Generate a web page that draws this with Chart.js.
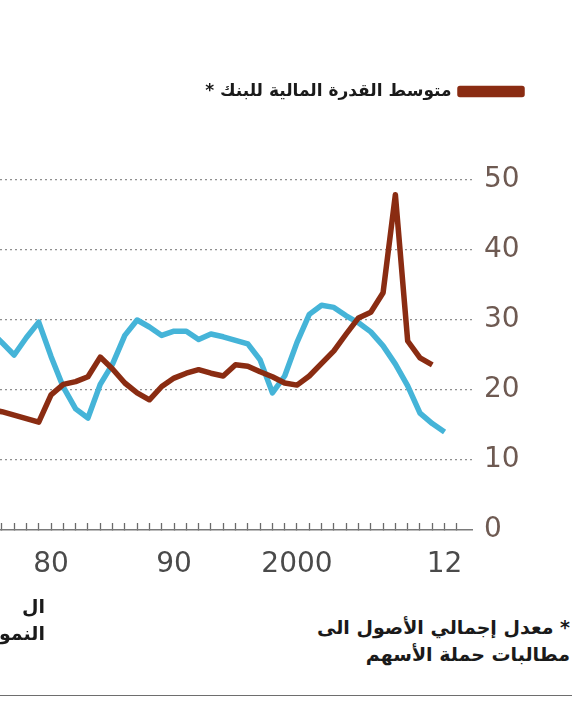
<!DOCTYPE html>
<html lang="ar">
<head>
<meta charset="utf-8">
<script src="https://cdn.jsdelivr.net/npm/chart.js@4.4.1/dist/chart.umd.min.js"></script>
<style>
  html, body { margin: 0; padding: 0; background: #ffffff; }
  body { width: 572px; height: 720px; position: relative; overflow: hidden; font-family: "DejaVu Sans", sans-serif; }
  #wrap { position: absolute; left: 0; top: 0; width: 572px; height: 600px; }
  .note { position: absolute; direction: rtl; text-align: right; font-weight: bold; color: #1a1a1a; font-size: 19px; line-height: 27px; white-space: nowrap; }
  #rule { position: absolute; left: 0; width: 572px; top: 695px; height: 0; border-top: 1.5px solid #6e6e6e; }
</style>
</head>
<body>
<div id="wrap"><canvas id="c" width="572" height="600"></canvas></div>
<div class="note" id="noteLeft" style="right:527px; top:593px;">ال<br>النمو</div>
<div class="note" id="noteRight" style="right:2px; top:614px;">* معدل إجمالي الأصول الى<br>مطالبات حملة الأسهم</div>
<div id="rule"></div>
<script>
// ---- data ----
const years = [1975,1976,1977,1978,1979,1980,1981,1982,1983,1984,1985,1986,1987,1988,1989,1990,1991,1992,1993,1994,1995,1996,1997,1998,1999,2000,2001,2002,2003,2004,2005,2006,2007,2008,2009,2010,2011,2012];
const leverageLabel = "متوسط القدرة المالية للبنك *";
const leverage = [17.2,16.9,16.4,15.9,15.4,19.3,20.8,21.2,21.9,24.7,23.0,21.0,19.6,18.6,20.5,21.7,22.4,22.9,22.4,22.0,23.6,23.4,22.6,21.9,21.0,20.7,22.0,23.8,25.6,28.0,30.3,31.1,33.9,47.9,27.0,24.6,23.6,null];
const otherLabel = "السلسلة الثانية";
const other = [28.5,26.8,25.0,27.5,29.7,24.8,20.4,17.3,16.0,20.8,23.7,27.8,30.0,29.0,27.8,28.4,28.4,27.2,28.0,27.6,27.1,26.6,24.3,19.6,22.0,26.8,30.8,32.1,31.8,30.6,29.6,28.3,26.3,23.7,20.6,16.7,15.2,14.0];
const xTickLabels = {1980: "80", 1990: "90", 2000: "2000", 2012: "12"};
const yTicks = [0,10,20,30,40,50];
const xMin = 1975.85, xMax = 2014.23;

const toPts = (arr) => years.map((y, i) => ({x: y, y: arr[i]}));

const BROWN = "#8a2c12";
const BLUE = "#45b4d8";

new Chart(document.getElementById("c"), {
  type: "line",
  data: {
    datasets: [
      { label: leverageLabel, data: toPts(leverage), borderColor: BROWN, backgroundColor: BROWN,
        borderWidth: 5.5, pointRadius: 0, tension: 0, borderJoinStyle: "round", spanGaps: false },
      { label: otherLabel, data: toPts(other), borderColor: BLUE, backgroundColor: BLUE,
        borderWidth: 5.5, pointRadius: 0, tension: 0, borderJoinStyle: "round" }
    ]
  },
  options: {
    responsive: false,
    animation: false,
    layout: { padding: { top: 73, right: 40, left: 0, bottom: 0 } },
    plugins: {
      tooltip: { enabled: false },
      legend: {
        display: true, position: "top", align: "start", rtl: true, textDirection: "rtl",
        labels: {
          filter: (item) => item.datasetIndex === 0,
          boxWidth: 62, boxHeight: 6, padding: 10, color: "#1a1a1a",
          font: { family: "DejaVu Sans", size: 17, weight: "bold" }
        }
      },
      title: { display: true, text: "", weight: 500, position: "top",
               font: { size: 1, lineHeight: 1 }, padding: { top: 69, bottom: 0 } }
    },
    scales: {
      x: {
        type: "linear", min: xMin, max: xMax,
        afterBuildTicks: (s) => { s.ticks = []; for (let y = 1976; y <= 2013; y++) s.ticks.push({value: y}); },
        afterFit: (s) => { s.height = 70; s.paddingLeft = 0; s.paddingRight = 0; },
        grid: { drawOnChartArea: false, drawTicks: true, tickLength: -7, tickColor: "#6a6a6a", tickWidth: 1.3 },
        border: { display: true, color: "#7a7a7a", width: 1.5 },
        ticks: {
          autoSkip: false, maxRotation: 0, padding: 25, color: "#4a4a4a",
          font: { family: "DejaVu Sans", size: 28 },
          callback: (v) => xTickLabels[v] || ""
        }
      },
      y: {
        position: "right", min: 0, max: 50,
        afterBuildTicks: (s) => { s.ticks = yTicks.map(v => ({value: v})); },
        afterFit: (s) => { s.width = 60; },
        grid: { drawTicks: false, color: (ctx) => ctx.tick && ctx.tick.value === 0 ? "rgba(0,0,0,0)" : "#8f8f8f", lineWidth: 1.2 },
        border: { display: false, dash: [2, 3] },
        ticks: { padding: 12, color: "#6e5a52", font: { family: "DejaVu Sans", size: 28 } }
      }
    }
  }
});
</script>
</body>
</html>
